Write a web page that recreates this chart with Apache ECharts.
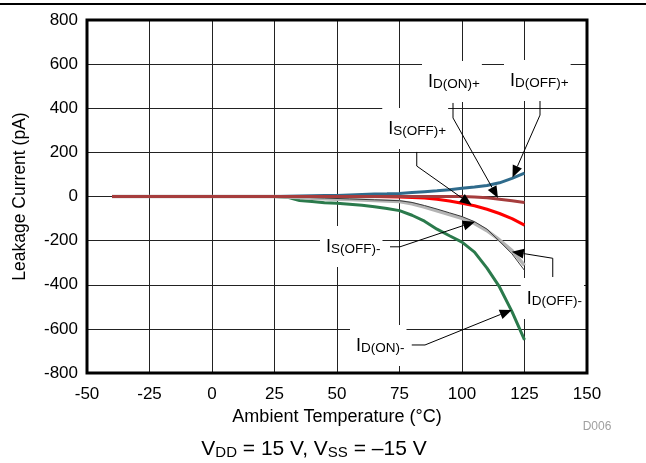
<!DOCTYPE html>
<html>
<head>
<meta charset="utf-8">
<script src="https://cdn.jsdelivr.net/npm/echarts@6/dist/echarts.min.js"></script>
<style>
  html, body { margin: 0; padding: 0; background: #fff; }
  #chart { width: 646px; height: 463px; }
</style>
</head>
<body>
<div id="chart"></div>
<script>
// ambient temperature (°C)
var temps = [-40, -35, -30, -25, -20, -15, -10, -5, 0, 5, 10, 15, 20, 25,
             30, 35, 40, 45, 50, 55, 60, 65, 70, 75, 80, 85, 90, 95, 100, 105, 110, 115, 120, 125];

// leakage current (pA)
var idOffPos = [0, 0, 0, 0, 0, 0, 0, 0, 0, 0, 0, 0, 0, 0,
                1, 2, 3, 4, 5, 7, 9, 11, 12, 14, 18, 22, 26, 31, 37, 43, 50, 62, 82, 106];
var idOnPos  = [0, 0, 0, 0, 0, 0, 0, 0, 0, 0, 0, 0, 0, 0,
                0, 0, 0, 0, 0, 0, 0, 0, 0, 0, 0, 0, 0, 0, 0, -2, -6, -12, -19, -27];
var isOffPos = [0, 0, 0, 0, 0, 0, 0, 0, 0, 0, 0, 0, 0, 0,
                0, 0, 0, 0, 0, 0, 0, 0, -1, -2, -4, -7, -12, -20, -31, -42, -58, -77, -100, -130];
var isOffNeg = [0, 0, 0, 0, 0, 0, 0, 0, 0, 0, 0, 0, 0, 0,
                -2, -5, -8, -10, -12, -14, -16, -18, -20, -23, -33, -48, -65, -82, -99, -122, -155, -197, -245, -312];
var idOffNeg = [0, 0, 0, 0, 0, 0, 0, 0, 0, 0, 0, 0, 0, 0,
                -1, -3, -5, -7, -9, -11, -13, -15, -17, -19, -27, -41, -57, -74, -91, -114, -148, -203, -260, -335];
var idOnNeg  = [0, 0, 0, 0, 0, 0, 0, 0, 0, 0, 0, 0, 0, 0,
                -3, -18, -23, -28, -31, -35, -40, -46, -54, -64, -85, -112, -148, -178, -207, -252, -325, -410, -522, -650];

var xTicks = [-50, -25, 0, 25, 50, 75, 100, 125, 150];
var yTicks = [-800, -600, -400, -200, 0, 200, 400, 600, 800];

var FONT = '"Liberation Sans", Arial, sans-serif';

function pairs(vals) {
  return temps.map(function (t, i) { return [t, vals[i]]; });
}

function lineSeries(name, vals, color, width) {
  return {
    name: name,
    type: 'line',
    data: pairs(vals),
    symbol: 'none',
    smooth: false,
    silent: true,
    lineStyle: { color: color, width: width },
    z: 2
  };
}

var chart = echarts.init(document.getElementById('chart'));

var option = {
  animation: false,
  textStyle: { fontFamily: FONT },
  grid: { left: 87, top: 20, width: 500, height: 353 },
  xAxis: {
    type: 'value',
    min: xTicks[0], max: xTicks[xTicks.length - 1], interval: 25,
    name: 'Ambient Temperature (°C)',
    nameLocation: 'middle',
    nameGap: 35,
    nameTextStyle: { fontSize: 18, color: '#000', fontFamily: FONT },
    axisLine: { show: false },
    axisTick: { show: false },
    axisLabel: { fontSize: 17, color: '#000', margin: 13, fontFamily: FONT },
    splitLine: { show: true, lineStyle: { color: '#222', width: 1 } }
  },
  yAxis: {
    type: 'value',
    min: yTicks[0], max: yTicks[yTicks.length - 1], interval: 200,
    name: 'Leakage Current (pA)',
    nameLocation: 'middle',
    nameGap: 58,
    nameTextStyle: { fontSize: 17.5, color: '#000', fontFamily: FONT },
    axisLine: { show: false },
    axisTick: { show: false },
    axisLabel: { fontSize: 17, color: '#000', margin: 9, fontFamily: FONT },
    splitLine: { show: true, lineStyle: { color: '#222', width: 1 } }
  },
  series: [
    lineSeries('ID(ON)-', idOnNeg, '#2b7a4c', 3),
    lineSeries('IS(OFF)-', isOffNeg, '#b4b4b4', 3.5),
    lineSeries('ID(OFF)-', idOffNeg, '#3a3a3a', 1),
    lineSeries('IS(OFF)+', isOffPos, '#ff0000', 3),
    lineSeries('ID(OFF)+', idOffPos, '#2f6b8c', 3),
    lineSeries('ID(ON)+', idOnPos, '#a63d3d', 3)
  ]
};
chart.setOption(option);

// callouts: text anchor (left of "I", baseline), leader polyline, arrow tip, in data units
var callouts = [
  { sub: 'D(ON)+',  at: [86.4, 492],  path: [[96.4, 424], [96.4, 356]],   tip: [114.4, -7] },
  { sub: 'D(OFF)+', at: [119.2, 496], path: [[131.2, 433], [131.2, 369]], tip: [120.2, 86] },
  { sub: 'S(OFF)+', at: [70.5, 279],  path: [[81.9, 202], [81.9, 138]],   tip: [103.9, -38] },
  { sub: 'S(OFF)-', at: [45.6, -256], path: [[71.2, -228], [75.2, -228]], tip: [105.2, -114] },
  { sub: 'D(OFF)-', at: [125.9, -492], path: [[136.3, -365], [136.3, -280]], tip: [119.9, -250] },
  { sub: 'D(ON)-',  at: [57.6, -705], path: [[79.9, -673], [85.2, -673]], tip: [119.9, -514] }
];

function px(p) { return chart.convertToPixel({ gridIndex: 0 }, p); }

var graphics = [];

// thin rule across the top of the figure
graphics.push({
  type: 'line', z: 0,
  shape: { x1: 0, y1: 4, x2: 646, y2: 4 },
  style: { stroke: '#000', lineWidth: 2 }
});

callouts.forEach(function (c) {
  var a = px(c.at);
  var pts = c.path.map(px);
  var tip = px(c.tip);
  var last = pts[pts.length - 1];
  var dx = tip[0] - last[0], dy = tip[1] - last[1];
  var len = Math.sqrt(dx * dx + dy * dy);
  var ux = dx / len, uy = dy / len;
  var headLen = 12, headHalf = 5;
  var base = [tip[0] - ux * headLen, tip[1] - uy * headLen];
  graphics.push({
    type: 'polyline', z: 20,
    shape: { points: pts.concat([base]) },
    style: { stroke: '#000', lineWidth: 1, fill: null }
  });
  graphics.push({
    type: 'polygon', z: 20,
    shape: { points: [tip,
      [base[0] - uy * headHalf, base[1] + ux * headHalf],
      [base[0] + uy * headHalf, base[1] - ux * headHalf]] },
    style: { fill: '#000' }
  });
  // bottom padding is part of the box, so push the anchor down by it
  graphics.push({
    type: 'text', z: 30,
    x: a[0] - 6, y: a[1] + 3 + 11,
    style: {
      text: '{i|I}{s|' + c.sub + '}',
      align: 'left', verticalAlign: 'bottom',
      backgroundColor: '#fff',
      padding: [12, 2, 11, 6],
      rich: {
        i: { fontSize: 18, lineHeight: 18, verticalAlign: 'bottom', fontFamily: FONT, fill: '#000' },
        s: { fontSize: 13.5, lineHeight: 12, verticalAlign: 'bottom', fontFamily: FONT, fill: '#000' }
      }
    }
  });
});

// heavy plot frame, drawn above the callout boxes
var tl = px([xTicks[0], yTicks[yTicks.length - 1]]);
var br = px([xTicks[xTicks.length - 1], yTicks[0]]);
graphics.push({
  type: 'rect', z: 40,
  shape: { x: tl[0], y: tl[1], width: br[0] - tl[0], height: br[1] - tl[1] },
  style: { fill: null, stroke: '#000', lineWidth: 3 }
});

// figure id and test condition
graphics.push({
  type: 'text', z: 30, x: 597, y: 427,
  style: { text: 'D006', fontSize: 12, fill: '#a0a0a0', align: 'center', verticalAlign: 'middle', fontFamily: FONT }
});
graphics.push({
  type: 'text', z: 30, x: 314, y: 460,
  style: {
    text: '{v|V}{s|DD}{v| = 15 V, V}{s|SS}{v| = \u201315 V}',
    align: 'center', verticalAlign: 'bottom',
    rich: {
      v: { fontSize: 21, lineHeight: 21, verticalAlign: 'bottom', fontFamily: FONT, fill: '#000' },
      s: { fontSize: 15, lineHeight: 5, verticalAlign: 'bottom', fontFamily: FONT, fill: '#000' }
    }
  }
});

chart.setOption({ graphic: { elements: graphics } });
</script>
</body>
</html>
